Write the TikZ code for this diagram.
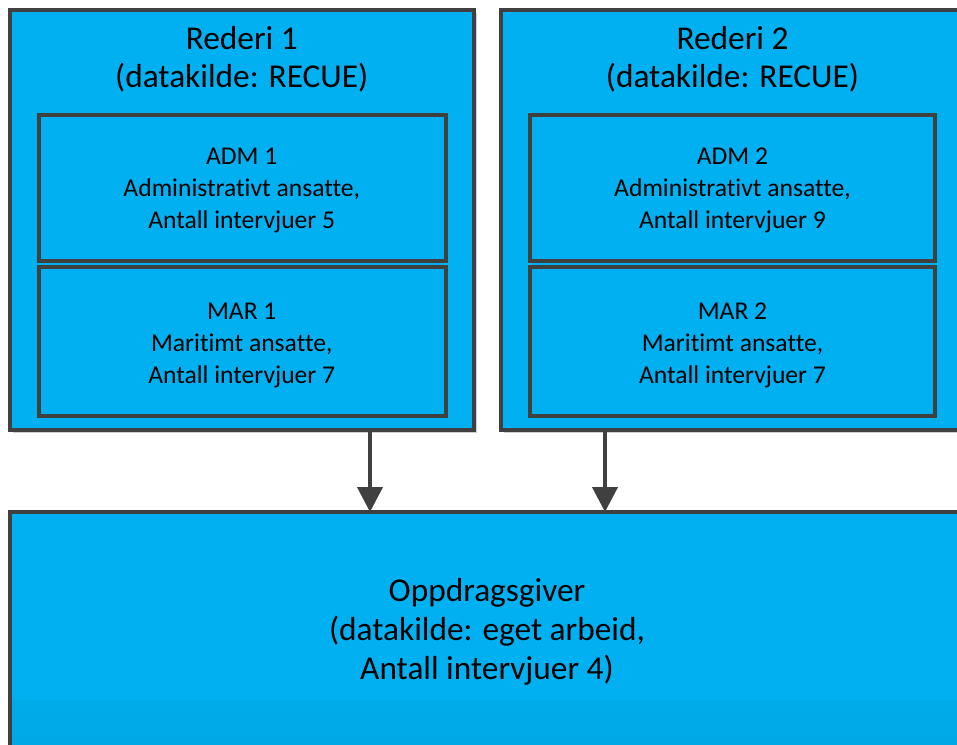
\documentclass[tikz,border=0pt]{standalone}
\usepackage{fontspec}
\setmainfont[Ligatures=NoCommon]{Carlito}
\usetikzlibrary{arrows.meta}
\definecolor{boxblue}{HTML}{00B0F0}
\definecolor{boxline}{HTML}{404040}
\definecolor{shadowgray}{HTML}{D0D0D0}
\definecolor{shadowblue}{HTML}{7FCDEB}
\tikzset{
  px/.style={x=0.75pt,y=-0.75pt},
  bluebox/.style={draw=boxline, line width=3pt, fill=boxblue},
  outershadow/.style={fill=shadowgray},
  innershadow/.style={fill=shadowblue},
  titletext/.style={align=center, font=\fontsize{25}{28.5}\selectfont, inner sep=0pt},
  innertext/.style={align=center, font=\fontsize{19.2}{24}\selectfont, inner sep=0pt},
  flow/.style={draw=boxline, line width=3pt, -{Triangle[width=18.75pt,length=18.75pt]}, shorten >=0pt},
}
\begin{document}
\begin{tikzpicture}[px]
\useasboundingbox (0,0) rectangle (957,744);
\clip (0,0) rectangle (957,744);
% shadows
\fill[outershadow] (12.5,13) rectangle (477,433);
\fill[outershadow] (504,13) rectangle (967,433);
% outer boxes
\draw[bluebox] (9.5,10) rectangle (474,430);
\draw[bluebox] (501,10) rectangle (964,430);
% inner shadows
\fill[innershadow] (40.5,117) rectangle (447.5,262.5);
\fill[innershadow] (40.5,269) rectangle (447.5,418);
\fill[innershadow] (532,117) rectangle (937,262.5);
\fill[innershadow] (532,269) rectangle (937,418);
% inner boxes
\draw[bluebox] (38.5,115) rectangle (445.5,260.5);
\draw[bluebox] (38.5,267) rectangle (445.5,416);
\draw[bluebox] (530,115) rectangle (935,260.5);
\draw[bluebox] (530,267) rectangle (935,416);
% bottom box
\shade[top color=boxblue, bottom color=boxblue!95!black, middle color=boxblue] (9.5,512) rectangle (970,760);
\fill[boxblue] (9.5,512) rectangle (970,700);
\draw[boxline, line width=3pt] (9.5,760) -- (9.5,512) -- (970,512);
\coordinate (b1) at (370,512);
\coordinate (b2) at (605,512);
\coordinate (a1) at (370,430);
\coordinate (a2) at (605,430);
% texts
\node[titletext] (t1) at (241.75,59.5) {Rederi 1\\(datakilde: RECUE)};
\node[titletext] (t2) at (732.5,59.5) {Rederi 2\\(datakilde: RECUE)};
\node[innertext] (adm1) at (241.75,190.5) {ADM 1\\Administrativt ansatte,\\Antall intervjuer 5};
\node[innertext] (mar1) at (241.75,345.5) {MAR 1\\Maritimt ansatte,\\Antall intervjuer 7};
\node[innertext] (adm2) at (732.5,190.5) {ADM 2\\Administrativt ansatte,\\Antall intervjuer 9};
\node[innertext] (mar2) at (732.5,345.5) {MAR 2\\Maritimt ansatte,\\Antall intervjuer 7};
\node[titletext, font=\fontsize{25}{29.25}\selectfont] (opp) at (487,632) {Oppdragsgiver\\(datakilde: eget arbeid,\\Antall intervjuer 4)};
% arrows
\draw[flow] (a1) -- (b1);
\draw[flow] (a2) -- (b2);
\end{tikzpicture}
\end{document}
